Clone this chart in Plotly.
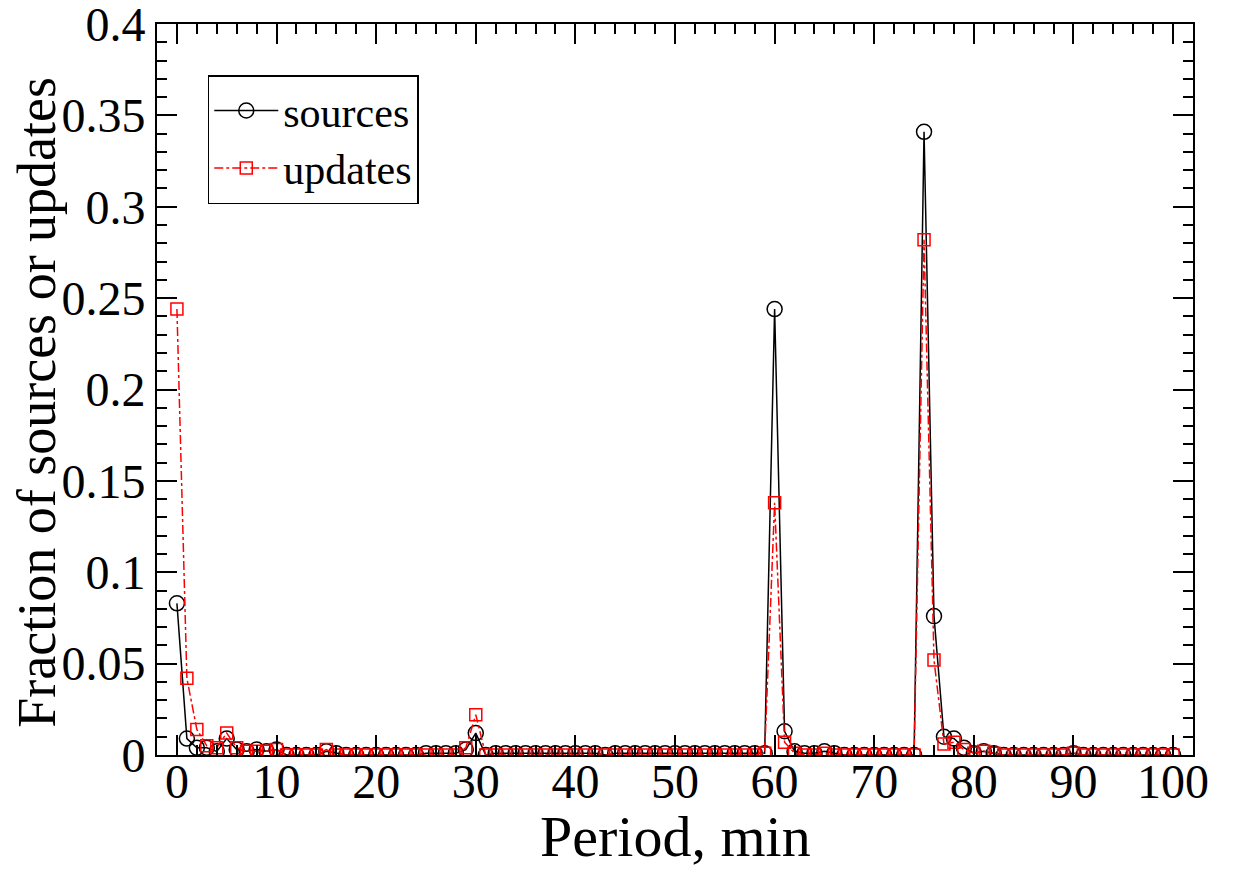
import plotly.graph_objects as go

period = list(range(0, 101))

sources = [
    0.083, 0.009, 0.004, 0.004, 0.002, 0.009, 0.003, 0.002, 0.003, 0.002,  # 0-9
    0.003, 0.000, 0.000, 0.000, 0.000, 0.002, 0.001, 0.000, 0.000, 0.000,  # 10-19
    0.000, 0.000, 0.000, 0.000, 0.000, 0.001, 0.001, 0.001, 0.001, 0.003,  # 20-29
    0.012, 0.000, 0.001, 0.001, 0.001, 0.001, 0.001, 0.001, 0.001, 0.001,  # 30-39
    0.001, 0.001, 0.001, 0.000, 0.001, 0.001, 0.001, 0.001, 0.001, 0.001,  # 40-49
    0.001, 0.001, 0.001, 0.001, 0.001, 0.001, 0.001, 0.001, 0.001, 0.001,  # 50-59
    0.244, 0.013, 0.002, 0.001, 0.001, 0.002, 0.001, 0.000, 0.000, 0.000,  # 60-69
    0.000, 0.000, 0.000, 0.000, 0.000, 0.341, 0.076, 0.010, 0.009, 0.004,  # 70-79
    0.001, 0.002, 0.001, 0.000, 0.000, 0.000, 0.000, 0.000, 0.000, 0.000,  # 80-89
    0.001, 0.000, 0.000, 0.000, 0.000, 0.000, 0.000, 0.000, 0.000, 0.000,  # 90-99
    0.000,
]

updates = [
    0.244, 0.042, 0.014, 0.005, 0.004, 0.012, 0.004, 0.002, 0.002, 0.002,  # 0-9
    0.003, 0.000, 0.000, 0.000, 0.000, 0.003, 0.000, 0.000, 0.000, 0.000,  # 10-19
    0.000, 0.000, 0.000, 0.000, 0.000, 0.000, 0.000, 0.000, 0.000, 0.004,  # 20-29
    0.022, 0.000, 0.000, 0.000, 0.000, 0.000, 0.000, 0.000, 0.000, 0.000,  # 30-39
    0.000, 0.000, 0.000, 0.000, 0.000, 0.000, 0.000, 0.000, 0.000, 0.000,  # 40-49
    0.000, 0.000, 0.000, 0.000, 0.000, 0.000, 0.000, 0.000, 0.000, 0.001,  # 50-59
    0.138, 0.007, 0.001, 0.000, 0.000, 0.001, 0.000, 0.000, 0.000, 0.000,  # 60-69
    0.000, 0.000, 0.000, 0.000, 0.000, 0.282, 0.052, 0.006, 0.007, 0.003,  # 70-79
    0.001, 0.002, 0.001, 0.000, 0.000, 0.000, 0.000, 0.000, 0.000, 0.000,  # 80-89
    0.001, 0.000, 0.000, 0.000, 0.000, 0.000, 0.000, 0.000, 0.000, 0.000,  # 90-99
    0.000,
]

FONT = "Liberation Serif"

fig = go.Figure()
fig.add_trace(go.Scatter(
    x=period, y=sources, name="sources", mode="lines+markers",
    line=dict(color="black", width=1.5),
    marker=dict(symbol="circle-open", size=15, color="black", line=dict(width=1.5)),
))
fig.add_trace(go.Scatter(
    x=period, y=updates, name="updates", mode="lines+markers",
    line=dict(color="#ff0000", width=1.5, dash="dashdot"),
    marker=dict(symbol="square-open", size=12, color="#ff0000", line=dict(width=1.5)),
))

axis_common = dict(
    showline=True, linecolor="black", linewidth=2, mirror="allticks",
    ticks="inside", tickcolor="black", tickwidth=1.5,
    showgrid=False, zeroline=False, automargin=False,
    ticklabeloverflow="allow",
    tickfont=dict(family=FONT, size=48, color="black"),
)

fig.update_layout(
    width=1240, height=869,
    # page body has an 8px offset, so margins are shifted to compensate
    margin=dict(l=149, r=55, t=16, b=122),
    paper_bgcolor="white", plot_bgcolor="white",
    font=dict(family=FONT, color="black"),
    showlegend=True,
    legend=dict(
        x=0.049, y=0.93, xanchor="left", yanchor="top",
        bordercolor="black", borderwidth=1.5, bgcolor="white",
        font=dict(family=FONT, size=42, color="black"),
        itemwidth=64, tracegroupgap=0,
    ),
    xaxis=dict(
        range=[-2, 102], dtick=10, tick0=0, ticklen=20,
        ticklabelstandoff=-17,
        minor=dict(dtick=2, ticklen=10, ticks="inside", tickcolor="black", tickwidth=1.5),
        **axis_common,
    ),
    yaxis=dict(
        range=[0, 0.4], dtick=0.05, tick0=0, ticklen=20,
        minor=dict(dtick=0.01, ticklen=10, ticks="inside", tickcolor="black", tickwidth=1.5),
        **axis_common,
    ),
    annotations=[
        dict(text="Period, min", xref="paper", yref="paper", x=0.5, y=-0.112,
             xanchor="center", yanchor="middle", showarrow=False,
             font=dict(family=FONT, size=58, color="black")),
        dict(text="Fraction of sources or updates", xref="paper", yref="paper",
             x=-0.116, y=0.483, xanchor="center", yanchor="middle", textangle=-90,
             showarrow=False, font=dict(family=FONT, size=54, color="black")),
    ],
)

fig.write_html("out.html")
